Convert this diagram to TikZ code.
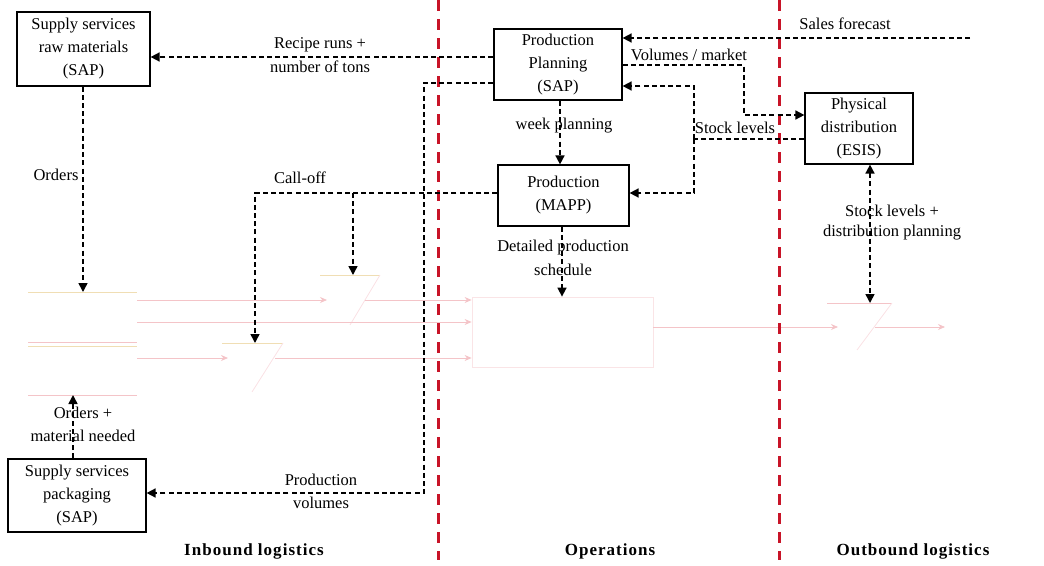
\documentclass[tikz,border=0pt]{standalone}
\usepackage{fontspec}
\setmainfont{Liberation Serif}
\usetikzlibrary{arrows.meta}
\definecolor{divred}{RGB}{200,20,40}
\definecolor{faint}{RGB}{244,196,200}
\definecolor{faintY}{RGB}{240,222,180}
\begin{document}
\begin{tikzpicture}[x=1pt,y=-1pt,
  txt/.style={font=\fontsize{16.5}{23}\selectfont, align=center, inner sep=0pt},
  sysbox/.style={txt, draw, line width=1.2pt},
  flow/.style={draw, line width=1.6pt, dash pattern=on 5pt off 3.2pt,
     -{Triangle[length=9pt,width=9pt]}},
  plainflow/.style={draw, line width=1.6pt, dash pattern=on 5pt off 3.2pt},
  divider/.style={draw=divred, line width=3pt, dash pattern=on 11pt off 8pt},
  area/.style={font=\fontsize{17}{20}\selectfont\bfseries\addfontfeature{LetterSpace=6}, inner sep=0pt},
  bg/.style={draw=faint, line width=0.8pt},
  bgarrow/.style={bg, -{Stealth[length=7pt,width=6pt]}}
]
\useasboundingbox (0,0) rectangle (1044,565);

% ---- faded material flow in the background ----
\coordinate (rs1) at (28,292);  \coordinate (rs1e) at (137,292);
\coordinate (rs2) at (28,342);  \coordinate (rs2e) at (137,342);
\coordinate (rs3) at (28,346);  \coordinate (rs3e) at (137,346);
\coordinate (rs4) at (28,395);  \coordinate (rs4e) at (137,395);
\draw[bg, draw=faintY] (rs1) -- (rs1e);
\draw[bg] (rs2) -- (rs2e);
\draw[bg, draw=faintY] (rs3) -- (rs3e);
\draw[bg] (rs4) -- (rs4e);

% inventory triangles
\coordinate (t1a) at (320,275); \coordinate (t1b) at (380,275); \coordinate (t1c) at (350,325);
\coordinate (t2a) at (222,343); \coordinate (t2b) at (283,343); \coordinate (t2c) at (252,392);
\coordinate (t3a) at (827,303); \coordinate (t3b) at (892,303); \coordinate (t3c) at (857,350);
\draw[bg, draw=faintY] (t1a) -- (t1b);
\draw[bg, draw=faint!50] (t1b) -- (t1c);
\draw[bg, draw=faintY] (t2a) -- (t2b);
\draw[bg, draw=faint!50] (t2b) -- (t2c);
\draw[bg] (t3a) -- (t3b);
\draw[bg, draw=faint!50] (t3b) -- (t3c);

\node[draw=faint!45, line width=0.8pt, minimum width=181pt, minimum height=70pt, inner sep=0pt]
  (factory) at (562.5,332) {};

\draw[bgarrow] (137,300) -- (327,300);
\draw[bgarrow] (365,300) -- (factory.west |- 0,300);
\draw[bgarrow] (137,322) -- (factory.west |- 0,322);
\draw[bgarrow] (137,358) -- (228,358);
\draw[bgarrow] (275,358) -- (factory.west |- 0,358);
\draw[bgarrow] (factory.east |- 0,327) -- (838,327);
\draw[bgarrow] (875,327) -- (945,327);

% ---- area dividers ----
\draw[divider] (438,0) -- (438,560);
\draw[divider] (779,0) -- (779,560);

% ---- information systems ----
\node[sysbox, minimum width=133pt, minimum height=74pt] (ssrm) at (83.5,49)
  {Supply services\\raw materials\\(SAP)};
\node[sysbox, minimum width=128pt, minimum height=71pt] (pp) at (558,64.5)
  {Production\\Planning\\(SAP)};
\node[sysbox, minimum width=131pt, minimum height=61pt] (mapp) at (563.5,195.5)
  {Production\\(MAPP)};
\node[sysbox, minimum width=108pt, minimum height=71pt] (esis) at (859,128.5)
  {Physical\\distribution\\(ESIS)};
\node[sysbox, minimum width=138pt, minimum height=73pt] (sspk) at (77,495.5)
  {Supply services\\packaging\\(SAP)};

% ---- information flows ----
\draw[flow] (pp.west |- 0,57) -- (ssrm.east |- 0,57);
\node[txt] (lrecipe) at (320,45) {Recipe runs +};
\node[txt] (ltons) at (320,67) {number of tons};

\coordinate (pvbend) at (424,493);
\draw[flow] (pp.west |- 0,83) -| (pvbend) -- (sspk.east |- pvbend);
\node[txt] (lprod) at (321,480) {Production};
\node[txt] (lvol) at (321,503) {volumes};

\draw[flow] (pp.south -| 560,0) -- (mapp.north -| 560,0);
\node[txt] (lweek) at (564,126) {week planning};

\coordinate (sfend) at (970,38);
\draw[flow] (sfend) -- (pp.east |- sfend);
\node[txt] (lsales) at (845,24) {Sales forecast};

\coordinate (vmbend) at (744,115);
\draw[flow] (pp.east |- 0,65) -| (vmbend) -- (esis.west |- vmbend);
\node[txt] (lvm) at (689,55) {Volumes / market};

\coordinate (sljoin) at (694,139);
\draw[plainflow] (esis.west |- sljoin) -- (sljoin);
\draw[flow] (sljoin) |- (pp.east |- 0,86);
\draw[flow] (sljoin) |- (mapp.east |- 0,193);
\node[txt] (lstock) at (735,128) {Stock levels};

\draw[flow, {Triangle[length=9pt,width=9pt]}-{Triangle[length=9pt,width=9pt]}]
  (esis.south -| 870,0) -- (t3a -| 870,0);
\node[txt] (lsld1) at (892,211) {Stock levels +};
\node[txt] (lsld2) at (892,233) {distribution planning};

\draw[flow] (mapp.south -| 562,0) -- (factory.north -| 562,0);
\node[txt] (ldet1) at (563,248) {Detailed production};
\node[txt] (ldet2) at (563,270) {schedule};

\coordinate (cobend) at (255,193);
\coordinate (cobranch) at (353,193);
\draw[flow] (mapp.west |- cobend) -- (cobend) -- (t2a -| cobend);
\draw[flow] (cobranch) -- (t1a -| cobranch);
\node[txt] (lcall) at (300,178) {Call-off};

\draw[flow] (ssrm.south -| 83,0) -- (rs1 -| 83,0);
\node[txt] (lorders) at (56,175) {Orders};

\draw[flow] (sspk.north -| 73,0) -- (rs4 -| 73,0);
\node[txt] (lom1) at (83,413) {Orders +};
\node[txt] (lom2) at (83,436) {material needed};

% ---- area names ----
\node[area] (ain) at (254,551) {Inbound logistics};
\node[area] (aops) at (610,551) {Operations};
\node[area] (aout) at (913,551) {Outbound logistics};
\end{tikzpicture}
\end{document}
